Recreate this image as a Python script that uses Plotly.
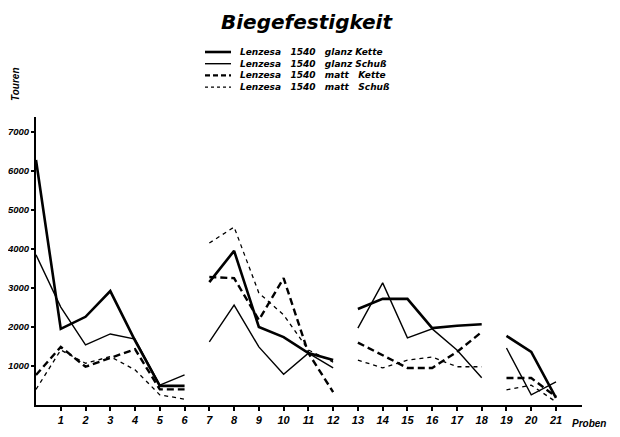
import plotly.graph_objects as go

# ---- data -------------------------------------------------------------
proben_gruppen = [[0, 1, 2, 3, 4, 5, 6], [7, 8, 9, 10, 11, 12],
                  [13, 14, 15, 16, 17, 18], [19, 20, 21]]

SP = "\u00a0\u00a0\u00a0"
serien_namen = [f"Lenzesa{SP}1540{SP}glanz\u00a0Kette",
                f"Lenzesa{SP}1540{SP}glanz\u00a0Schuß",
                f"Lenzesa{SP}1540{SP}matt{SP}Kette",
                f"Lenzesa{SP}1540{SP}matt{SP}Schuß"]

glanz_kette = [[6280, 1950, 2260, 2920, 1650, 490, 490],
               [3150, 3950, 2000, 1740, 1330, 1150],
               [2460, 2720, 2720, 1970, 2030, 2070],
               [1770, 1360, 180]]
glanz_schuss = [[3850, 2510, 1540, 1820, 1690, 510, 770],
                [1620, 2560, 1490, 790, 1330, 950],
                [1970, 3130, 1720, 1950, 1410, 700],
                [1460, 260, 590]]
matt_kette = [[770, 1490, 980, 1200, 1430, 400, 400],
              [3280, 3250, 2180, 3250, 1330, 330],
              [1600, 1280, 950, 950, 1360, 1870],
              [690, 690, 210]]
matt_schuss = [[400, 1410, 1070, 1240, 900, 260, 150],
               [4150, 4560, 2870, 2310, 1410, 1100],
               [1150, 950, 1150, 1230, 980, 980],
               [390, 510, 80]]

x_ticks = list(range(1, 22))
y_ticks = [1000, 2000, 3000, 4000, 5000, 6000, 7000]

# ---- styles -----------------------------------------------------------
styles = [dict(width=2.6, dash="solid", legdash="solid"),
          dict(width=1.4, dash="solid", legdash="solid"),
          dict(width=2.4, dash="7px,4px", legdash="5px,3px"),
          dict(width=1.3, dash="4px,4px", legdash="3px,3px")]

FONT_N = "Liberation Sans, Arial, sans-serif"
FONT_W = "DejaVu Sans, sans-serif"


def join(groups_x, groups_y):
    xs, ys = [], []
    for gx, gy in zip(groups_x, groups_y):
        if xs:
            xs.append(None)
            ys.append(None)
        xs.extend(gx)
        ys.extend(gy)
    return xs, ys


fig = go.Figure()
for name, vals, st in zip(serien_namen,
                          [glanz_kette, glanz_schuss, matt_kette, matt_schuss],
                          styles):
    xs, ys = join(proben_gruppen, vals)
    fig.add_trace(go.Scatter(x=xs, y=ys, mode="lines", name=name,
                             connectgaps=False,
                             line=dict(color="black", width=st["width"],
                                       dash=st["dash"])))

# ---- geometry: page has an 8px body margin --------------------------
OFF = 8
W, H = 620 - OFF, 437 - OFF
AX_L, AX_R, AX_T, AX_B = 36, 582, 117, 405      # window pixels
ML, MR = AX_L - OFF, W - (AX_R - OFF)
MT, MB = AX_T - OFF, H - (AX_B - OFF)
pw, ph = W - ML - MR, H - MT - MB
x_max = 21 * (AX_R - AX_L) / (556 - AX_L)


def px_x(px):
    return (px - OFF - ML) / pw


def px_y(py):
    return (H - MB - (py - OFF)) / ph


# title as annotation (kept fully inside the page)
fig.add_annotation(xref="paper", yref="paper", x=px_x(307), y=px_y(22),
                   text="Biegefestigkeit", showarrow=False,
                   xanchor="center", yanchor="middle",
                   font=dict(family=FONT_W, size=20, color="black",
                             weight="bold", style="italic"))

# compact legend: line samples + one multi-line text block
LEG_FS = 9
row_gap = 1.3 * LEG_FS
legend_rows = [52 + i * row_gap for i in range(len(serien_namen))]
for st, ry in zip(styles, legend_rows):
    fig.add_shape(type="line", xref="paper", yref="paper",
                  x0=px_x(205), x1=px_x(231), y0=px_y(ry), y1=px_y(ry),
                  line=dict(color="black", width=st["width"],
                            dash=st["legdash"]))
fig.add_annotation(xref="paper", yref="paper", x=px_x(238),
                   y=px_y((legend_rows[0] + legend_rows[-1]) / 2),
                   text="<br>".join(serien_namen), showarrow=False,
                   xanchor="left", yanchor="middle", align="left",
                   font=dict(family=FONT_W, size=LEG_FS, color="black",
                             weight="bold", style="italic"))

fig.add_annotation(xref="paper", yref="paper", x=px_x(15), y=px_y(84),
                   text="Touren", textangle=-90, showarrow=False,
                   xanchor="center", yanchor="middle",
                   font=dict(family=FONT_N, size=10, color="black",
                             weight="bold", style="italic"))
fig.add_annotation(xref="paper", yref="paper", x=px_x(608), y=px_y(423),
                   text="Proben", showarrow=False, xanchor="right",
                   yanchor="middle",
                   font=dict(family=FONT_N, size=10, color="black",
                             weight="bold", style="italic"))

fig.update_layout(
    width=W, height=H,
    margin=dict(l=ML, r=MR, t=MT, b=MB, autoexpand=False),
    paper_bgcolor="white", plot_bgcolor="white",
    showlegend=False,
    xaxis=dict(range=[0, x_max], tickvals=x_ticks,
               ticktext=[str(t) for t in x_ticks],
               showgrid=False, zeroline=False, showline=True,
               linecolor="black", linewidth=2, ticks="outside", ticklen=4,
               tickwidth=1.5, tickcolor="black",
               tickfont=dict(family=FONT_N, size=11, color="black",
                             weight="bold", style="italic")),
    yaxis=dict(range=[0, 7380], tickvals=y_ticks,
               ticktext=[str(t) for t in y_ticks],
               showgrid=False, zeroline=False, showline=True,
               linecolor="black", linewidth=2, ticks="outside", ticklen=3,
               tickwidth=1.5, tickcolor="black", automargin=False,
               tickfont=dict(family=FONT_N, size=9.5, color="black",
                             weight="bold", style="italic")),
)

fig.write_html("out.html")
